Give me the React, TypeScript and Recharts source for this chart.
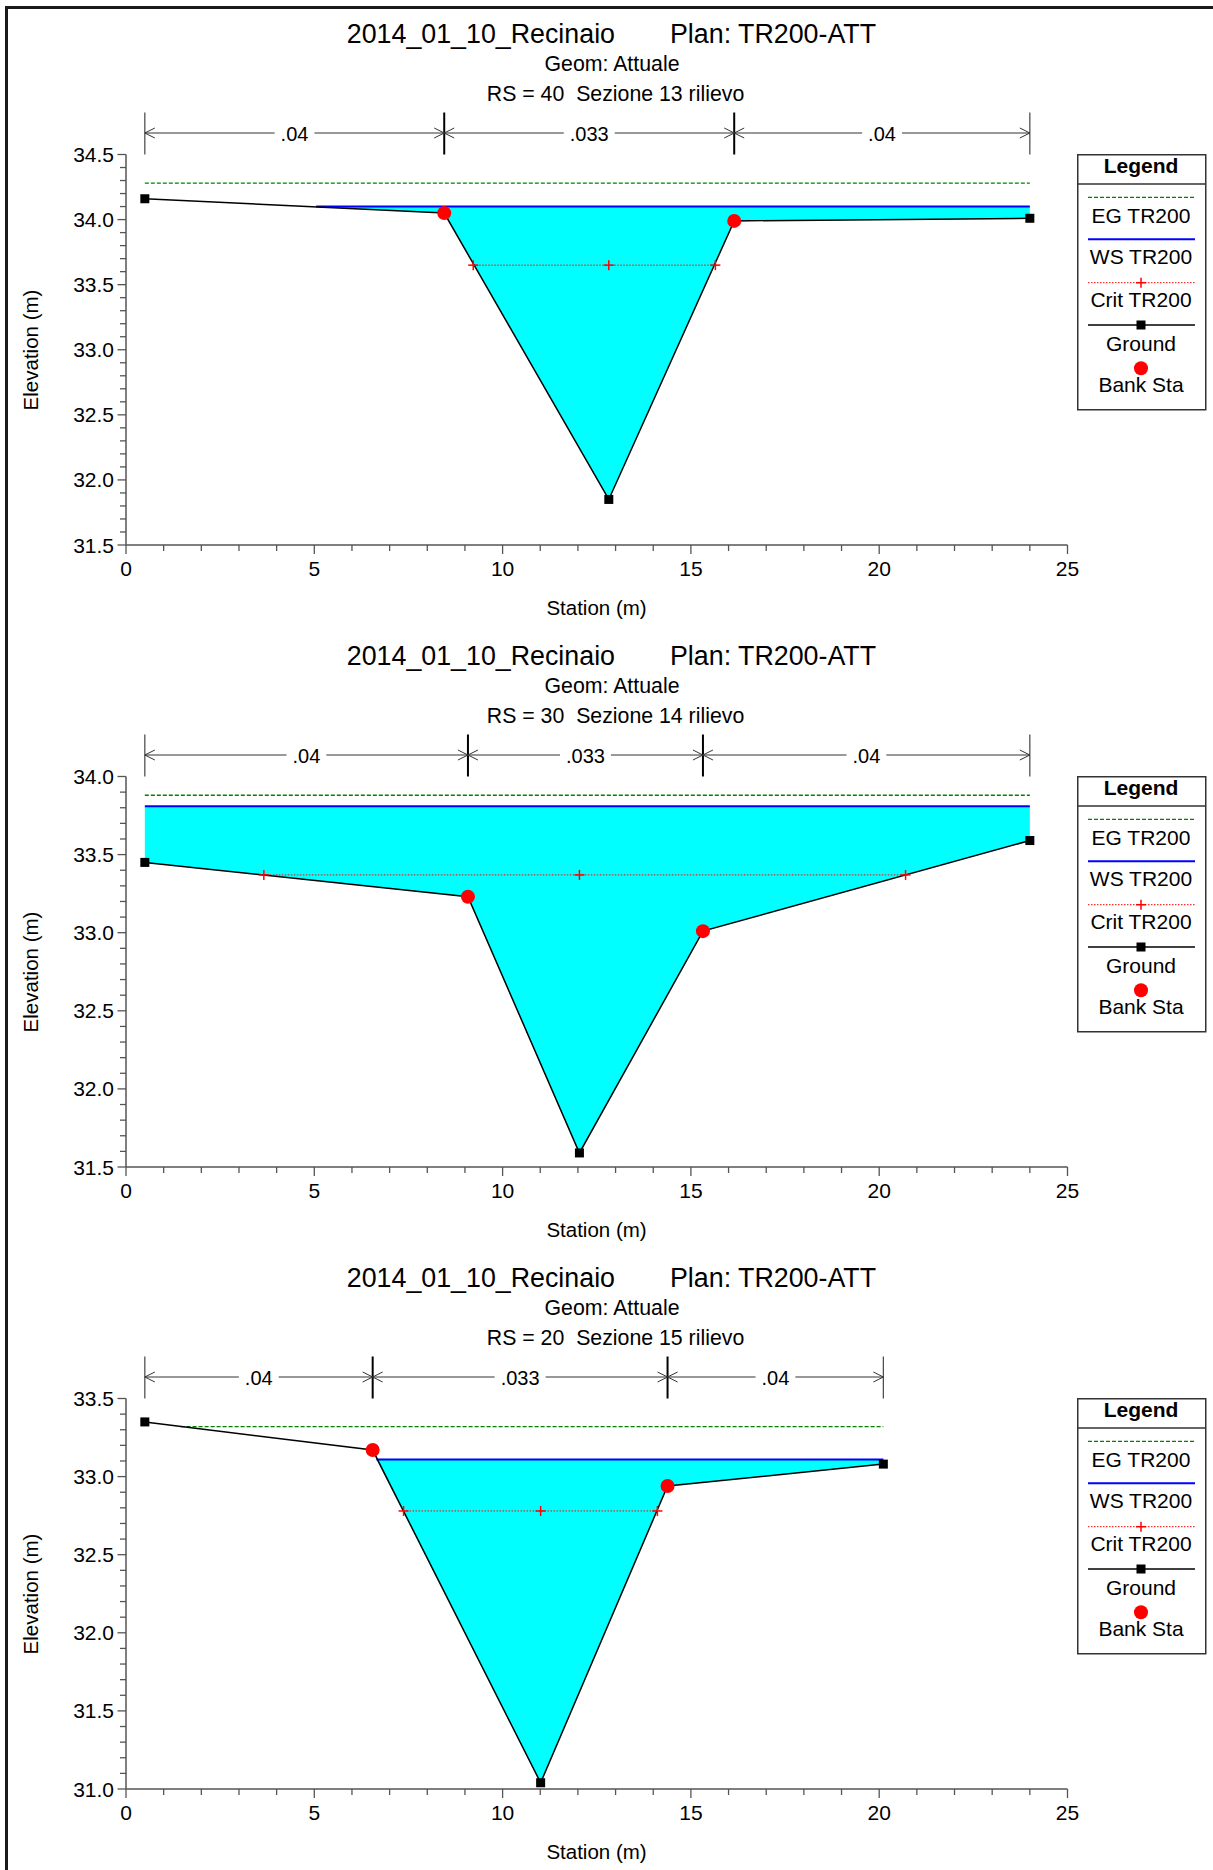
import React from "react";
import {
  ComposedChart,
  Area,
  Line,
  Scatter,
  XAxis,
  YAxis,
  ReferenceLine,
} from "recharts";

const FONT = '"Liberation Sans", Arial, Helvetica, sans-serif';

const PROJECT = "2014_01_10_Recinaio";
const PLAN = "Plan: TR200-ATT";
const GEOM = "Geom: Attuale";

const X_MAJOR = [0, 5, 10, 15, 20, 25];
const X_TICKS = [0, 1, 2, 3, 4, 5, 6, 7, 8, 9, 10, 11, 12, 13, 14, 15, 16, 17, 18, 19, 20, 21, 22, 23, 24, 25];

// ---- RS = 40  Sezione 13 rilievo
const rs40Ground = [
  { st: 0.5, el: 34.16 },
  { st: 8.45, el: 34.05 },
  { st: 12.82, el: 31.85 },
  { st: 16.15, el: 33.99 },
  { st: 24.0, el: 34.01 },
];
const rs40Bank = [
  { st: 8.45, el: 34.05 },
  { st: 16.15, el: 33.99 },
];
const rs40Ws = [
  { st: 5.05, el: 34.1 },
  { st: 24.0, el: 34.1 },
];
const rs40Eg = [
  { st: 0.5, el: 34.28 },
  { st: 24.0, el: 34.28 },
];
const rs40Crit = [
  { st: 9.22, el: 33.65 },
  { st: 12.82, el: 33.65 },
  { st: 15.65, el: 33.65 },
];
const rs40Manning = [0.5, 8.45, 16.15, 24.0];
const rs40N = [".04", ".033", ".04"];
const rs40YTicks = [31.5, 32.0, 32.5, 33.0, 33.5, 34.0, 34.5];

// ---- RS = 30  Sezione 14 rilievo
const rs30Ground = [
  { st: 0.5, el: 33.45 },
  { st: 9.08, el: 33.23 },
  { st: 12.04, el: 31.59 },
  { st: 15.32, el: 33.01 },
  { st: 24.0, el: 33.59 },
];
const rs30Bank = [
  { st: 9.08, el: 33.23 },
  { st: 15.32, el: 33.01 },
];
const rs30Ws = [
  { st: 0.5, el: 33.81 },
  { st: 24.0, el: 33.81 },
];
const rs30Eg = [
  { st: 0.5, el: 33.88 },
  { st: 24.0, el: 33.88 },
];
const rs30Crit = [
  { st: 3.66, el: 33.37 },
  { st: 12.04, el: 33.37 },
  { st: 20.7, el: 33.37 },
];
const rs30Manning = [0.5, 9.08, 15.32, 24.0];
const rs30N = [".04", ".033", ".04"];
const rs30YTicks = [31.5, 32.0, 32.5, 33.0, 33.5, 34.0];

// ---- RS = 20  Sezione 15 rilievo
const rs20Ground = [
  { st: 0.5, el: 33.35 },
  { st: 6.55, el: 33.17 },
  { st: 11.01, el: 31.04 },
  { st: 14.38, el: 32.94 },
  { st: 20.11, el: 33.08 },
];
const rs20Bank = [
  { st: 6.55, el: 33.17 },
  { st: 14.38, el: 32.94 },
];
const rs20Ws = [
  { st: 6.65, el: 33.11 },
  { st: 20.11, el: 33.11 },
];
const rs20Eg = [
  { st: 1.45, el: 33.32 },
  { st: 20.11, el: 33.32 },
];
const rs20Crit = [
  { st: 7.37, el: 32.78 },
  { st: 11.01, el: 32.78 },
  { st: 14.11, el: 32.78 },
];
const rs20Manning = [0.5, 6.55, 14.38, 20.11];
const rs20N = [".04", ".033", ".04"];
const rs20YTicks = [31.0, 31.5, 32.0, 32.5, 33.0, 33.5];

const sections = [
  { rs: "RS = 40  Sezione 13 rilievo", ground: rs40Ground, bank: rs40Bank, ws: rs40Ws, eg: rs40Eg, crit: rs40Crit, manning: rs40Manning, n: rs40N, yTicks: rs40YTicks },
  { rs: "RS = 30  Sezione 14 rilievo", ground: rs30Ground, bank: rs30Bank, ws: rs30Ws, eg: rs30Eg, crit: rs30Crit, manning: rs30Manning, n: rs30N, yTicks: rs30YTicks },
  { rs: "RS = 20  Sezione 15 rilievo", ground: rs20Ground, bank: rs20Bank, ws: rs20Ws, eg: rs20Eg, crit: rs20Crit, manning: rs20Manning, n: rs20N, yTicks: rs20YTicks },
];

const PANEL_H = 622;
const AXIS = "#555";

// wetted area: ground points under the water surface, closed at the WS ends
function wetTable(ground, ws) {
  const lo = ws[0].st;
  const hi = ws[ws.length - 1].st;
  const level = ws[0].el;
  const rows = ground
    .filter((g) => g.st >= lo && g.st <= hi)
    .map((g) => ({ st: g.st, range: [g.el, level] }));
  if (rows.length === 0 || rows[0].st > lo) rows.unshift({ st: lo, range: [level, level] });
  if (rows[rows.length - 1].st < hi) rows.push({ st: hi, range: [level, level] });
  return rows;
}

function minorTicks(lo, hi) {
  const out = [];
  for (let v = Math.round(lo * 10); v <= Math.round(hi * 10); v++) out.push(v / 10);
  return out;
}

const isMajor = (list, v) => list.some((m) => Math.abs(m - v) < 1e-6);

function XTick(props) {
  const { x, y, payload } = props;
  const major = isMajor(X_MAJOR, payload.value);
  return (
    <g>
      <line x1={x} y1={y} x2={x} y2={y + (major ? 9 : 6)} stroke={AXIS} strokeWidth={1.3} />
      {major && (
        <text x={x} y={y + 31} textAnchor="middle" fontSize={21} fontFamily={FONT} fill="#000">
          {payload.value}
        </text>
      )}
    </g>
  );
}

function YTick(props) {
  const { x, y, payload, labels } = props;
  const major = isMajor(labels, payload.value);
  return (
    <g>
      <line x1={x - (major ? 8.5 : 6)} y1={y} x2={x} y2={y} stroke={AXIS} strokeWidth={1.3} />
      {major && (
        <text x={x - 12} y={y + 7.5} textAnchor="end" fontSize={21} fontFamily={FONT} fill="#000">
          {payload.value.toFixed(1)}
        </text>
      )}
    </g>
  );
}

function BoundaryBar(props) {
  const { x1, y1, y2, inner } = props;
  const top = Math.min(y1, y2);
  return <line x1={x1} y1={top - 42} x2={x1} y2={top} stroke={inner ? "#000" : "#444"} strokeWidth={inner ? 2 : 1.2} />;
}

function NSpan(props) {
  const { x1, x2, y1, label } = props;
  const a = Math.min(x1, x2);
  const b = Math.max(x1, x2);
  const y = y1 - 21.5;
  const mid = (a + b) / 2;
  const w = label.split("").reduce((s, c) => s + (c === "." ? 0.278 : 0.556), 0) * 20 + 12;
  return (
    <g>
      <line x1={a} y1={y} x2={b} y2={y} stroke="#333" strokeWidth={1} />
      <polyline points={`${a + 10},${y - 5} ${a},${y} ${a + 10},${y + 5}`} fill="none" stroke="#333" strokeWidth={1} />
      <polyline points={`${b - 10},${y - 5} ${b},${y} ${b - 10},${y + 5}`} fill="none" stroke="#333" strokeWidth={1} />
      <rect x={mid - w / 2} y={y - 11} width={w} height={22} fill="#fff" />
      <text x={mid} y={y + 8} textAnchor="middle" fontSize={20} fontFamily={FONT} fill="#000">
        {label}
      </text>
    </g>
  );
}

function Legend() {
  const cx = 64;
  const t = { fontSize: 21, fontFamily: FONT, fill: "#000", textAnchor: "middle" as const };
  return (
    <svg width={130} height={258} style={{ position: "absolute", left: 1077, top: 154 }}>
      <rect x={0.75} y={0.75} width={128} height={255} fill="#fff" stroke="#333" strokeWidth={1.5} />
      <text x={cx} y={19.3} {...t} fontWeight="bold">Legend</text>
      <line x1={0.75} y1={30} x2={128.75} y2={30} stroke="#333" strokeWidth={1.5} />
      <line x1={11} y1={43.3} x2={118} y2={43.3} stroke="#008000" strokeWidth={1.3} strokeDasharray="4 2" />
      <text x={cx} y={69.3} {...t}>EG TR200</text>
      <line x1={11} y1={85.3} x2={118} y2={85.3} stroke="#0000ff" strokeWidth={2} />
      <text x={cx} y={110.3} {...t}>WS TR200</text>
      <line x1={11} y1={128.7} x2={118} y2={128.7} stroke="#ff0000" strokeWidth={1} strokeDasharray="1.5 1.5" />
      <line x1={cx - 5} y1={128.7} x2={cx + 5} y2={128.7} stroke="#ff0000" strokeWidth={1.5} />
      <line x1={cx} y1={123.7} x2={cx} y2={133.7} stroke="#ff0000" strokeWidth={1.5} />
      <text x={cx} y={152.7} {...t}>Crit TR200</text>
      <line x1={11} y1={171} x2={118} y2={171} stroke="#000" strokeWidth={1.5} />
      <rect x={cx - 4.5} y={166.5} width={9} height={9} fill="#000" />
      <text x={cx} y={196.7} {...t}>Ground</text>
      <circle cx={cx} cy={214.3} r={7} fill="#ff0000" />
      <text x={cx} y={237.7} {...t}>Bank Sta</text>
    </svg>
  );
}

function Section({ sec, index }) {
  const yLo = sec.yTicks[0];
  const yHi = sec.yTicks[sec.yTicks.length - 1];
  const wet = wetTable(sec.ground, sec.ws);
  const last = sec.manning.length - 1;
  return (
    <div style={{ position: "absolute", left: 0, top: index * PANEL_H, width: 1213, height: PANEL_H }}>
      <svg width={1213} height={PANEL_H} style={{ position: "absolute", left: 0, top: 0 }}>
        <text x={615} y={43} textAnchor="end" fontSize={26.8} fontFamily={FONT} fill="#000">{PROJECT}</text>
        <text x={670} y={43} textAnchor="start" fontSize={26.8} fontFamily={FONT} fill="#000">{PLAN}</text>
        <text x={612} y={70.5} textAnchor="middle" fontSize={21.3} fontFamily={FONT} fill="#000">{GEOM}</text>
        <text x={615.5} y={101} textAnchor="middle" fontSize={21.3} fontFamily={FONT} fill="#000" style={{ whiteSpace: "pre" }}>{sec.rs}</text>
        <text x={596.5} y={615} textAnchor="middle" fontSize={20.5} fontFamily={FONT} fill="#000">Station (m)</text>
        <text x={37.5} y={350} textAnchor="middle" fontSize={20.5} fontFamily={FONT} fill="#000" transform="rotate(-90 37.5 350)">Elevation (m)</text>
      </svg>
      <div style={{ position: "absolute", left: 0, top: 0 }}>
        <ComposedChart width={1213} height={PANEL_H} margin={{ top: 154.5, right: 145.5, bottom: 37, left: 46 }}>
          <XAxis
            type="number"
            dataKey="st"
            domain={[0, 25]}
            ticks={X_TICKS}
            interval={0}
            height={40}
            tickSize={0}
            tickMargin={0}
            tickLine={false}
            axisLine={{ stroke: AXIS, strokeWidth: 1.5 }}
            tick={(p) => <XTick {...p} />}
          />
          <YAxis
            type="number"
            dataKey="el"
            domain={[yLo, yHi]}
            ticks={minorTicks(yLo, yHi)}
            interval={0}
            width={80}
            tickSize={0}
            tickMargin={0}
            tickLine={false}
            axisLine={{ stroke: AXIS, strokeWidth: 1.5 }}
            tick={(p) => <YTick {...p} labels={sec.yTicks} />}
          />
          <Area
            data={wet}
            dataKey="range"
            type="linear"
            stroke="none"
            fill="#00ffff"
            fillOpacity={1}
            dot={false}
            activeDot={false}
            isAnimationActive={false}
          />
          <Line data={sec.eg} dataKey="el" type="linear" stroke="#008000" strokeWidth={1.3} strokeDasharray="4 2" dot={false} activeDot={false} isAnimationActive={false} />
          <Line data={sec.ws} dataKey="el" type="linear" stroke="#0000ff" strokeWidth={2} dot={false} activeDot={false} isAnimationActive={false} />
          <Line
            data={sec.crit}
            dataKey="el"
            type="linear"
            stroke="#ff0000"
            strokeWidth={1}
            strokeDasharray="1.5 1.5"
            activeDot={false}
            isAnimationActive={false}
            dot={(p) => (
              <g key={`c-${p.index}`}>
                <line x1={p.cx - 5} y1={p.cy} x2={p.cx + 5} y2={p.cy} stroke="#ff0000" strokeWidth={1.5} />
                <line x1={p.cx} y1={p.cy - 5} x2={p.cx} y2={p.cy + 5} stroke="#ff0000" strokeWidth={1.5} />
              </g>
            )}
          />
          <Line
            data={sec.ground}
            dataKey="el"
            type="linear"
            stroke="#000"
            strokeWidth={1.5}
            activeDot={false}
            isAnimationActive={false}
            dot={(p) => <rect key={`g-${p.index}`} x={p.cx - 4.5} y={p.cy - 4.5} width={9} height={9} fill="#000" />}
          />
          <Scatter
            data={sec.bank}
            dataKey="el"
            fill="#ff0000"
            isAnimationActive={false}
            shape={(p) => <circle cx={p.cx} cy={p.cy} r={7} fill="#ff0000" />}
          />
          {sec.manning.map((st, i) => (
            <ReferenceLine
              key={`mb-${i}`}
              x={st}
              ifOverflow="visible"
              shape={(p) => <BoundaryBar {...p} inner={i > 0 && i < last} />}
            />
          ))}
          {sec.n.map((n, i) => (
            <ReferenceLine
              key={`ms-${i}`}
              segment={[
                { x: sec.manning[i], y: yHi },
                { x: sec.manning[i + 1], y: yHi },
              ]}
              ifOverflow="visible"
              shape={(p) => <NSpan {...p} label={n} />}
            />
          ))}
        </ComposedChart>
      </div>
      <Legend />
    </div>
  );
}

export default function App() {
  return (
    <div style={{ position: "absolute", left: 0, top: 0, width: 1213, height: 1870, background: "#fff", overflow: "hidden" }}>
      {sections.map((sec, i) => (
        <Section key={i} sec={sec} index={i} />
      ))}
      <div
        style={{
          position: "absolute",
          left: 5,
          top: 6,
          width: 1208,
          height: 1864,
          borderTop: "3px solid #1a1a1a",
          borderLeft: "3px solid #1a1a1a",
          boxSizing: "border-box",
          pointerEvents: "none",
        }}
      />
    </div>
  );
}
